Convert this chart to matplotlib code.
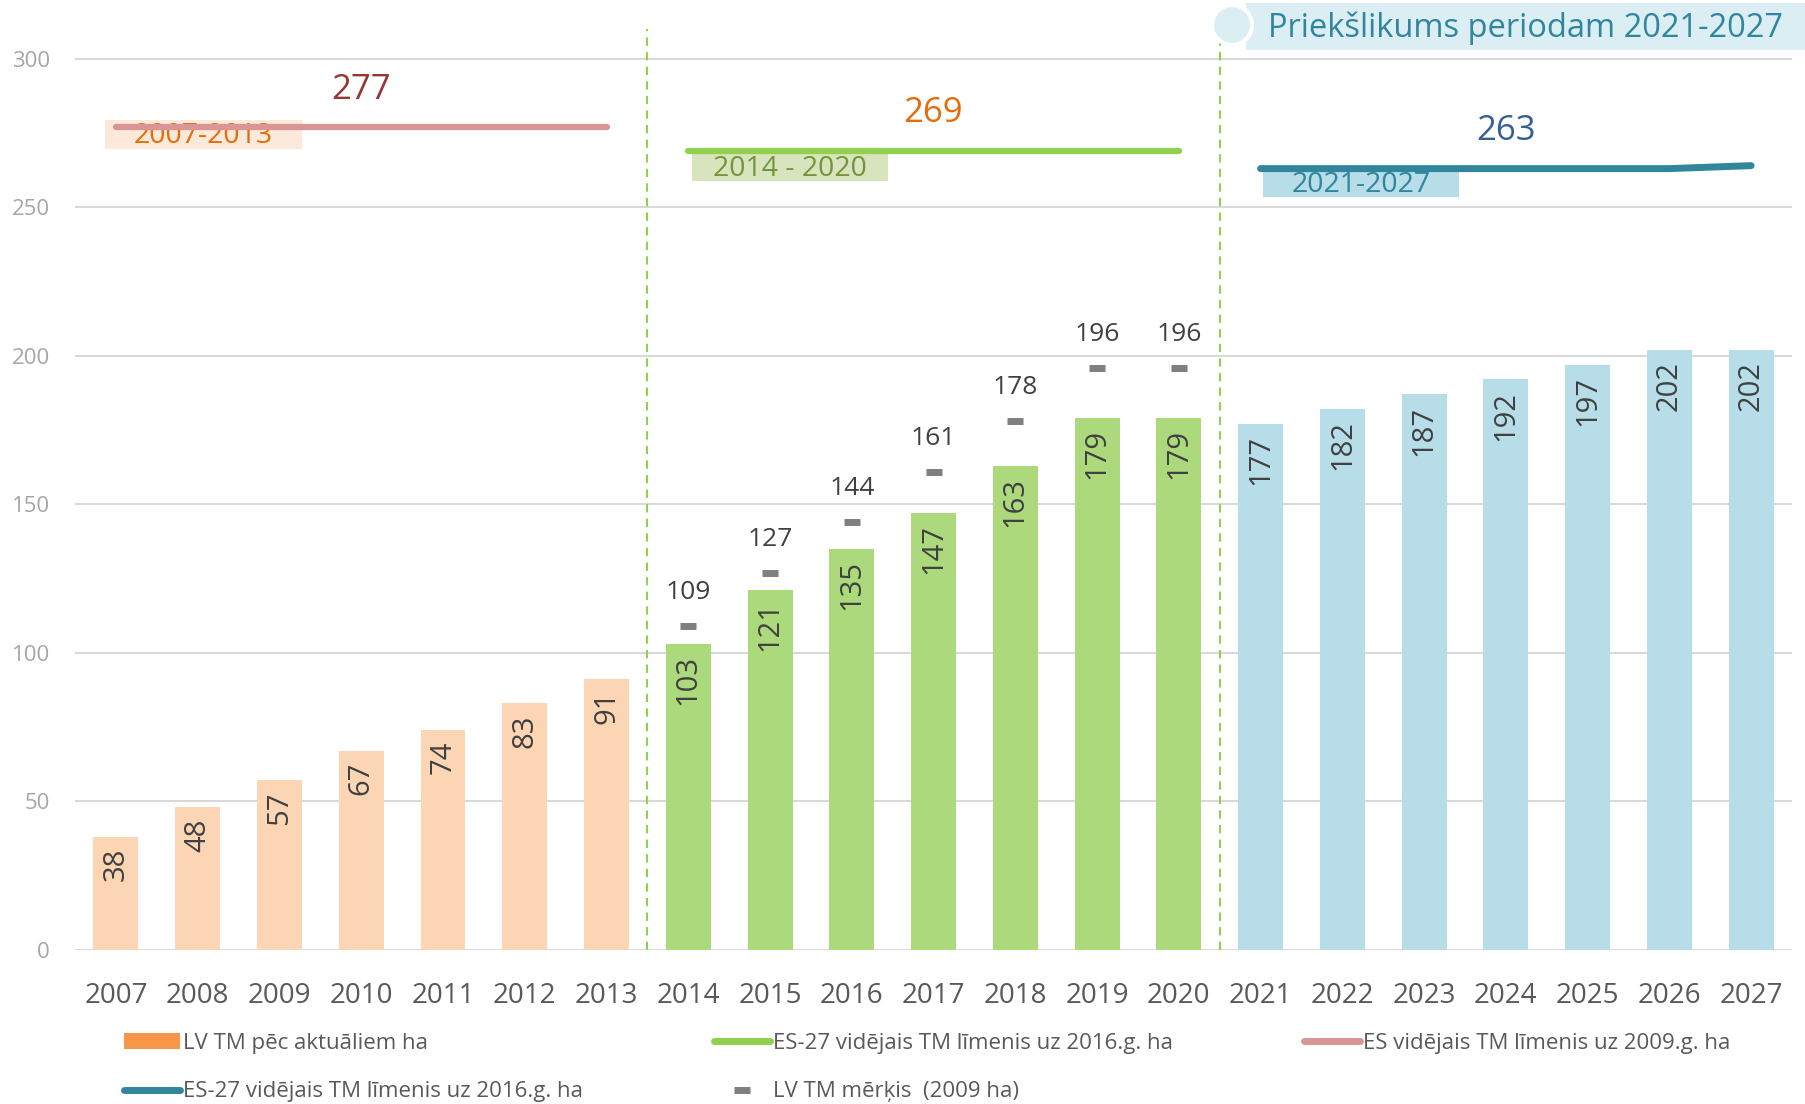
import numpy as np
import matplotlib.pyplot as plt
from matplotlib.patches import Patch, Rectangle, Ellipse
from matplotlib.lines import Line2D

plt.rcParams['font.family'] = ['Open Sans', 'DejaVu Sans']

# --- data ---
years = ['2007', '2008', '2009', '2010', '2011', '2012', '2013',
         '2014', '2015', '2016', '2017', '2018', '2019', '2020',
         '2021', '2022', '2023', '2024', '2025', '2026', '2027']
lv_tm = [38, 48, 57, 67, 74, 83, 91,
         103, 121, 135, 147, 163, 179, 179,
         177, 182, 187, 192, 197, 202, 202]
lv_target = [109, 127, 144, 161, 178, 196, 196]        # 2014-2020
es_avg_0713 = [277, 277, 277, 277, 277, 277, 277]
es_avg_1420 = [269, 269, 269, 269, 269, 269, 269]
es_avg_2127 = [263, 263, 263, 263, 263, 263, 264]
period_names = ['2007-2013', '2014 - 2020', '2021-2027']
period_avg = [277, 269, 263]

# --- styles ---
bar_cols = ['#FCD5B5'] * 7 + ['#ABD97B'] * 7 + ['#B7DDE8'] * 7
line_cols = ['#D99694', '#92D050', '#31859C']
avg_txt_cols = ['#953735', '#E46C0A', '#376092']
box_cols = ['#FDE9D9', '#D7E4BD', '#B7DEE8']
box_txt_cols = ['#E46C0A', '#77933C', '#31859C']
box_dx = [-0.13, 0.04, 0.03]      # box left edge relative to period start
box_dy = [2.5, -0.4, 0.2]         # box top relative to the line

x = np.arange(len(years))

fig = plt.figure(figsize=(18.05, 11.04), dpi=100)
ax = fig.add_axes([0.0416, 0.1398, 0.9512, 0.8339])

ax.bar(x, lv_tm, width=0.55, color=bar_cols, zorder=2)
for xi, v in zip(x, lv_tm):
    ax.annotate(str(v), (xi, v), xytext=(0, -8), textcoords='offset points',
                rotation=90, ha='center', va='top', fontsize=21, color='#404040', zorder=3)

# LV target dashes
xt = x[7:14]
ax.plot(xt, lv_target, ls='none', marker='_', ms=12, mew=5, color='#7F7F7F', zorder=3)
for xi, v in zip(xt, lv_target):
    ax.annotate(str(v), (xi, v), xytext=(0, 24), textcoords='offset points',
                ha='center', va='center', fontsize=19, color='#404040')

# period average lines
avg_series = [es_avg_0713, es_avg_1420, es_avg_2127]
for i, ser in enumerate(avg_series):
    xs = x[i * 7:(i + 1) * 7]
    ax.plot(xs, ser, color=line_cols[i], lw=4.5 if i < 2 else 5,
            solid_capstyle='round', zorder=5)
    ax.annotate(str(period_avg[i]), (xs[3], period_avg[i]), xytext=(0, 27),
                textcoords='offset points', ha='center', va='center',
                fontsize=25, color=avg_txt_cols[i])
    bx = xs[0] + box_dx[i]
    btop = period_avg[i] + box_dy[i]
    ax.add_patch(Rectangle((bx, btop - 9.8), 2.4, 9.8, fc=box_cols[i], ec='none', zorder=3))
    ax.text(bx + 1.2, btop - 5.6, period_names[i], ha='center', va='center', fontsize=20.5,
            color=box_txt_cols[i], zorder=4)

# period separators
for xv in [6.5, 13.5]:
    ax.axvline(xv, color='#92D050', ls=(0, (4, 3)), lw=1.5, zorder=1)

ax.set_xlim(-0.5, 20.5)
ax.set_ylim(0, 310)
ax.set_yticks([0, 50, 100, 150, 200, 250, 300])
ax.set_xticks(x)
ax.set_xticklabels(years)
ax.grid(axis='y', color='#D9D9D9', lw=1.5, zorder=0)
ax.set_axisbelow(True)
for s in ax.spines.values():
    s.set_visible(False)
ax.tick_params(axis='x', length=0, pad=23, labelsize=20, labelcolor='#595959')
ax.tick_params(axis='y', length=0, pad=18, labelsize=16, labelcolor='#A6A6A6')

# banner top right
fig.add_artist(Rectangle((1246 / 1805, 1 - 50 / 1104), (1805 - 1246) / 1805, 47 / 1104,
                         transform=fig.transFigure, fc='#DAEEF3', ec='none'))
fig.add_artist(Ellipse((1232 / 1805, 1 - 25 / 1104), 40 / 1805, 40 / 1104,
                       transform=fig.transFigure, fc='#DAEEF3', ec='white', lw=3))
fig.text(1268 / 1805, 1 - 28 / 1104, 'Priekšlikums periodam 2021-2027', ha='left',
         va='center', fontsize=23.5, color='#31859C')

# legend entries
legend_items = [
    (Patch(fc='#F79646', ec='none'), 'LV TM pēc aktuāliem ha', 124, 1043),
    (Line2D([], [], color='#92D050', lw=5, solid_capstyle='round'),
     'ES-27 vidējais TM līmenis uz 2016.g. ha', 714, 1043),
    (Line2D([], [], color='#D99694', lw=5, solid_capstyle='round'),
     'ES vidējais TM līmenis uz 2009.g. ha', 1304, 1043),
    (Line2D([], [], color='#31859C', lw=5, solid_capstyle='round'),
     'ES-27 vidējais TM līmenis uz 2016.g. ha', 124, 1092),
    (Line2D([], [], ls='none', marker='_', ms=12, mew=5, color='#7F7F7F'),
     'LV TM mērķis  (2009 ha)', 714, 1092),
]
for h, lab, px, py in legend_items:
    fig.legend(handles=[h], labels=[lab], loc='center left',
               bbox_to_anchor=(px / 1805, 1 - py / 1104), frameon=False,
               fontsize=16, handlelength=2.5, handletextpad=0.15,
               borderpad=0, borderaxespad=0, labelcolor='#595959')

fig.savefig('out.png', dpi=100)
plt.close(fig)
